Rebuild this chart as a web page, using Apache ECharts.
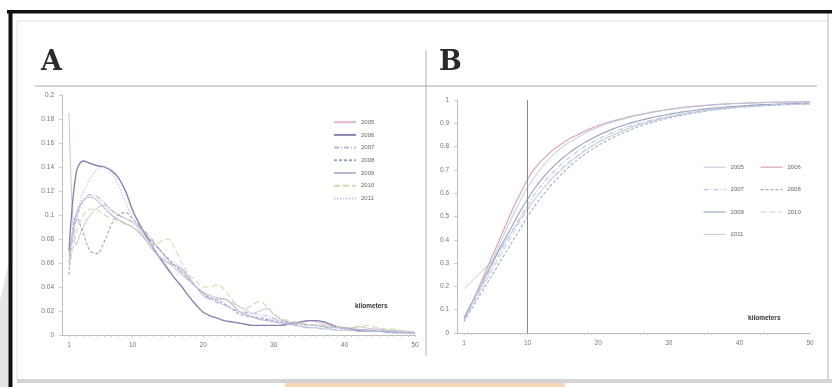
<!DOCTYPE html>
<html><head><meta charset="utf-8">
<script src="https://cdn.jsdelivr.net/npm/echarts@6/dist/echarts.min.js"></script>
<style>html,body{margin:0;padding:0;background:#fff}#c{width:832px;height:387px}</style>
</head><body><div id="c"></div>
<script>
const years = ['2005','2006','2007','2008','2009','2010','2011'];
const km = [1,2,3,4,5,6,7,8,9,10,11,12,13,14,15,16,17,18,19,20,21,22,23,24,25,26,27,28,29,30,31,32,33,34,35,36,37,38,39,40,41,42,43,44,45,46,47,48,49,50];
const xTickLabels = [1,10,20,30,40,50];
const axisLabelText = 'kilometers';

// Panel A: distribution of distances
const a2005 = [0.185,0.075,0.09,0.1,0.106,0.108,0.104,0.1,0.097,0.094,0.088,0.082,0.077,0.07,0.063,0.055,0.05,0.045,0.04,0.036,0.033,0.031,0.03,0.027,0.024,0.021,0.018,0.02,0.022,0.017,0.013,0.011,0.01,0.011,0.012,0.011,0.009,0.008,0.007,0.006,0.006,0.007,0.006,0.005,0.005,0.004,0.004,0.003,0.003,0.002];
const a2006 = [0.07,0.135,0.145,0.143,0.141,0.14,0.137,0.131,0.12,0.104,0.092,0.082,0.072,0.063,0.055,0.047,0.04,0.032,0.025,0.019,0.016,0.014,0.012,0.011,0.01,0.009,0.008,0.008,0.008,0.008,0.008,0.009,0.01,0.011,0.012,0.012,0.011,0.009,0.007,0.006,0.005,0.004,0.004,0.003,0.003,0.003,0.002,0.002,0.002,0.002];
const a2007 = [0.06,0.095,0.112,0.117,0.115,0.11,0.104,0.1,0.097,0.094,0.09,0.085,0.078,0.07,0.063,0.057,0.052,0.046,0.04,0.035,0.03,0.027,0.025,0.022,0.02,0.019,0.018,0.017,0.016,0.014,0.012,0.011,0.01,0.009,0.008,0.008,0.007,0.007,0.006,0.006,0.005,0.005,0.004,0.004,0.004,0.003,0.003,0.003,0.002,0.002];
const a2008 = [0.05,0.1,0.085,0.07,0.068,0.078,0.092,0.1,0.102,0.097,0.09,0.083,0.076,0.07,0.064,0.058,0.052,0.046,0.04,0.035,0.031,0.029,0.026,0.022,0.018,0.016,0.015,0.014,0.013,0.012,0.011,0.01,0.009,0.009,0.008,0.008,0.007,0.006,0.006,0.005,0.005,0.004,0.004,0.004,0.003,0.003,0.003,0.002,0.002,0.002];
const a2009 = [0.065,0.1,0.112,0.115,0.112,0.106,0.1,0.096,0.093,0.09,0.085,0.078,0.07,0.064,0.06,0.058,0.055,0.048,0.04,0.033,0.03,0.03,0.03,0.026,0.02,0.017,0.015,0.013,0.012,0.011,0.01,0.009,0.008,0.007,0.006,0.006,0.005,0.005,0.004,0.004,0.004,0.003,0.003,0.003,0.003,0.002,0.002,0.002,0.002,0.001];
const a2010 = [0.055,0.085,0.1,0.105,0.104,0.1,0.097,0.095,0.092,0.09,0.086,0.08,0.075,0.078,0.08,0.072,0.06,0.05,0.045,0.04,0.04,0.042,0.038,0.03,0.024,0.022,0.025,0.028,0.024,0.018,0.014,0.012,0.011,0.01,0.009,0.008,0.008,0.007,0.007,0.006,0.006,0.007,0.008,0.007,0.006,0.005,0.005,0.004,0.003,0.003];
const a2011 = [0.06,0.1,0.118,0.13,0.138,0.14,0.135,0.125,0.11,0.098,0.088,0.08,0.072,0.065,0.062,0.06,0.054,0.046,0.04,0.035,0.032,0.028,0.025,0.022,0.02,0.018,0.016,0.015,0.014,0.013,0.012,0.011,0.01,0.009,0.008,0.008,0.007,0.006,0.006,0.005,0.005,0.005,0.004,0.004,0.004,0.003,0.003,0.003,0.003,0.002];

// Panel B: cumulative share
const b2005 = [0.19,0.22,0.25,0.28,0.31,0.355,0.4,0.445,0.49,0.535,0.575,0.612,0.647,0.678,0.707,0.733,0.757,0.779,0.799,0.817,0.833,0.848,0.862,0.874,0.885,0.895,0.904,0.912,0.92,0.927,0.933,0.939,0.944,0.949,0.953,0.957,0.961,0.964,0.967,0.97,0.972,0.974,0.976,0.978,0.979,0.98,0.981,0.982,0.983,0.984];
const b2006 = [0.05,0.12,0.19,0.26,0.33,0.4,0.47,0.54,0.6,0.66,0.705,0.74,0.77,0.795,0.815,0.835,0.85,0.865,0.878,0.89,0.9,0.909,0.917,0.925,0.932,0.938,0.944,0.95,0.955,0.96,0.964,0.968,0.971,0.974,0.977,0.979,0.981,0.983,0.985,0.986,0.987,0.988,0.989,0.99,0.991,0.991,0.992,0.992,0.993,0.993];
const b2007 = [0.06,0.115,0.17,0.228,0.285,0.34,0.395,0.448,0.5,0.55,0.595,0.635,0.67,0.702,0.73,0.755,0.778,0.798,0.816,0.832,0.847,0.86,0.872,0.883,0.893,0.902,0.91,0.917,0.924,0.93,0.936,0.941,0.946,0.95,0.954,0.958,0.961,0.964,0.967,0.97,0.972,0.974,0.976,0.978,0.98,0.981,0.982,0.983,0.984,0.985];
const b2008 = [0.05,0.1,0.15,0.2,0.25,0.3,0.35,0.4,0.45,0.5,0.545,0.585,0.622,0.656,0.688,0.716,0.742,0.765,0.786,0.805,0.822,0.838,0.852,0.865,0.877,0.888,0.898,0.907,0.915,0.922,0.929,0.935,0.941,0.946,0.951,0.955,0.959,0.962,0.965,0.968,0.97,0.972,0.974,0.976,0.978,0.979,0.98,0.981,0.982,0.983];
const b2009 = [0.065,0.125,0.18,0.24,0.3,0.36,0.415,0.47,0.525,0.575,0.62,0.66,0.695,0.725,0.752,0.775,0.797,0.816,0.833,0.848,0.862,0.875,0.886,0.896,0.905,0.913,0.92,0.927,0.933,0.939,0.944,0.949,0.953,0.957,0.961,0.964,0.967,0.97,0.972,0.974,0.976,0.978,0.98,0.981,0.982,0.983,0.984,0.985,0.986,0.987];
const b2010 = [0.055,0.108,0.16,0.215,0.27,0.325,0.378,0.43,0.48,0.528,0.572,0.612,0.65,0.682,0.712,0.738,0.762,0.783,0.802,0.82,0.836,0.85,0.863,0.875,0.886,0.896,0.905,0.913,0.92,0.927,0.933,0.939,0.944,0.949,0.953,0.957,0.96,0.963,0.966,0.969,0.971,0.973,0.975,0.977,0.979,0.98,0.981,0.982,0.983,0.984];
const b2011 = [0.06,0.12,0.18,0.245,0.31,0.38,0.445,0.51,0.57,0.625,0.67,0.71,0.745,0.775,0.8,0.82,0.838,0.855,0.87,0.883,0.895,0.905,0.914,0.922,0.93,0.937,0.943,0.949,0.954,0.959,0.963,0.967,0.97,0.973,0.976,0.978,0.98,0.982,0.984,0.985,0.986,0.987,0.988,0.989,0.99,0.99,0.991,0.991,0.992,0.992];
const cutoffKm = 10;

const seriesA = [a2005,a2006,a2007,a2008,a2009,a2010,a2011];
const seriesB = [b2005,b2006,b2007,b2008,b2009,b2010,b2011];

const styleA = [
  {color:'#dcb9cd', type:'solid', width:1},
  {color:'#8a80b4', type:'solid', width:1.4},
  {color:'#aebbd8', type:[5,2,1,2], width:1.1},
  {color:'#9aa2c2', type:[3,2], width:1.1},
  {color:'#b6bad6', type:'solid', width:1.1},
  {color:'#cfdcae', type:[6,3], width:1.1},
  {color:'#c4cce6', type:[1.5,1.5], width:1.1}
];
const styleB = [
  {color:'#c6c8da', type:'solid', width:1},
  {color:'#dba7b1', type:'solid', width:1.2},
  {color:'#b8c8e0', type:[5,2,1,2], width:1.1},
  {color:'#a6acc8', type:[3,2], width:1.1},
  {color:'#9aa0c0', type:'solid', width:1.1},
  {color:'#c6d6e8', type:[6,3], width:1.1},
  {color:'#bcc6e0', type:'solid', width:1}
];

const tickFont = {fontSize:6.5, color:'#777', fontFamily:'Liberation Sans'};
const axisLine = {show:true, lineStyle:{color:'#bbb', width:1}};

function xAx(gi){
  return {type:'value', gridIndex:gi, min:0, max:50,
    axisLine:axisLine,
    axisTick:{show:true, customValues:km, length:2, lineStyle:{color:'#ccc'}},
    axisLabel:Object.assign({customValues:xTickLabels, margin:7}, tickFont),
    splitLine:{show:false}};
}
function yAx(gi, max, interval){
  return {type:'value', gridIndex:gi, min:0, max:max, interval:interval,
    axisLine:axisLine,
    axisTick:{show:true, length:3, lineStyle:{color:'#ccc'}},
    axisLabel:Object.assign({margin:8, formatter:v=>String(+v.toFixed(2))}, tickFont),
    splitLine:{show:false}};
}

const series = [];
years.forEach((y,i)=>{
  series.push({name:y, type:'line', xAxisIndex:0, yAxisIndex:0, smooth:0.35, showSymbol:false, symbol:'none',
    lineStyle:styleA[i], itemStyle:{color:styleA[i].color},
    data: km.map((k,j)=>[k, seriesA[i][j]])});
});
years.forEach((y,i)=>{
  const s = {name:y, type:'line', xAxisIndex:1, yAxisIndex:1, smooth:0.3, showSymbol:false, symbol:'none',
    lineStyle:styleB[i], itemStyle:{color:styleB[i].color},
    data: km.map((k,j)=>[k, seriesB[i][j]])};
  if(i===0){
    s.markLine = {silent:true, symbol:['none','none'], label:{show:false},
      lineStyle:{color:'#8a8a8a', type:'solid', width:1}, data:[{xAxis:cutoffKm}]};
  }
  series.push(s);
});

const legendText = {fontSize:6, color:'#666', fontFamily:'Liberation Sans'};
const option = {
  animation:false,
  backgroundColor:'#fff',
  grid:[
    {left:62, right:417, top:95, bottom:52},
    {left:457, right:22, top:100, bottom:54}
  ],
  xAxis:[xAx(0), xAx(1)],
  yAxis:[yAx(0,0.2,0.02), yAx(1,1,0.1)],
  legend:[
    {orient:'vertical', left:328, top:114, itemWidth:22, itemHeight:8, itemGap:6.3,
     itemStyle:{opacity:0}, textStyle:legendText, data:years.slice(), selectedMode:false},
    {orient:'horizontal', left:698, top:159, width:105, itemWidth:22, itemHeight:8, itemGap:16,
     itemStyle:{opacity:0}, textStyle:legendText, selectedMode:false,
     data:years.map((y,i)=>({name:y, lineStyle:{color:styleB[i].color, type:styleB[i].type, width:styleB[i].width}}))}
  ],
  graphic:[
    {type:'polygon', silent:true, shape:{points:[[0,300],[9,262],[9,387],[0,387]]}, style:{fill:'#e4e4e4'}},
    {type:'rect', silent:true, shape:{x:17,y:21,width:811,height:359}, style:{fill:'none', stroke:'#dedede', lineWidth:1}},
    {type:'rect', silent:true, shape:{x:17,y:379,width:815,height:4}, style:{fill:'#d4d4d4'}},
    {type:'rect', silent:true, shape:{x:285,y:383,width:280,height:4}, style:{fill:'#f5d6b6'}},
    {type:'rect', silent:true, shape:{x:827,y:13,width:2,height:367}, style:{fill:'#d8d8d8'}},
    {type:'rect', silent:true, shape:{x:7,y:10,width:825,height:3.5}, style:{fill:'#111'}},
    {type:'rect', silent:true, shape:{x:8.5,y:10,width:4,height:377}, style:{fill:'#111'}},
    {type:'line', silent:true, shape:{x1:35,y1:86,x2:817,y2:86}, style:{stroke:'#a8a8a8', lineWidth:1}},
    {type:'line', silent:true, shape:{x1:426,y1:50,x2:426,y2:356}, style:{stroke:'#b0b0b0', lineWidth:1}},
    {type:'text', silent:true, x:41, y:49, style:{text:'A', font:'bold 27px "DejaVu Serif"', fill:'#2a2a2a'}},
    {type:'text', silent:true, x:439, y:49, style:{text:'B', font:'bold 27px "DejaVu Serif"', fill:'#2a2a2a'}},
    {type:'text', silent:true, x:355, y:303, style:{text:axisLabelText, font:'bold 6.5px "Liberation Sans"', fill:'#333'}},
    {type:'text', silent:true, x:748, y:315, style:{text:axisLabelText, font:'bold 6.5px "Liberation Sans"', fill:'#333'}}
  ],
  series:series
};
const chart = echarts.init(document.getElementById('c'), null, {renderer:'canvas'});
chart.setOption(option);
</script></body></html>
